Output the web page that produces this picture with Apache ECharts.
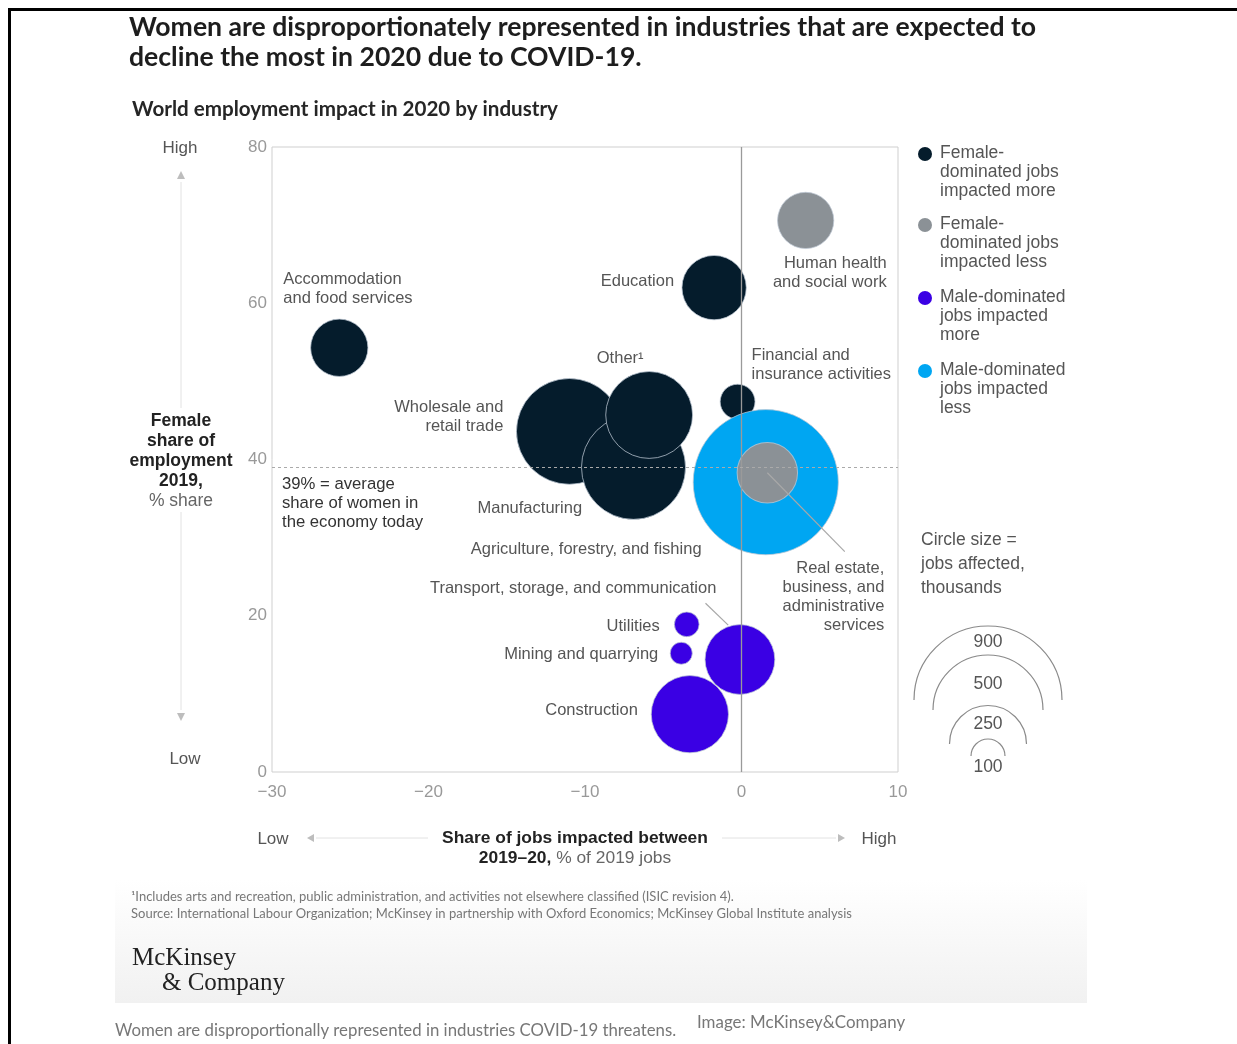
<!DOCTYPE html>
<html>
<head>
<meta charset="utf-8">
<script src="https://cdn.jsdelivr.net/npm/echarts@6/dist/echarts.min.js"></script>
<style>
html, body { margin: 0; padding: 0; background: #fff; }
#chart { width: 1237px; height: 1044px; }
</style>
</head>
<body>
<div id="chart"></div>
<script>
// data
var industries = [
    'Accommodation and food services', 'Education', 'Human health and social work',
    'Financial and insurance activities', 'Wholesale and retail trade', 'Manufacturing',
    'Other', 'Agriculture, forestry, and fishing',
    'Real estate, business, and administrative services',
    'Transport, storage, and communication', 'Utilities', 'Mining and quarrying', 'Construction'
];
var jobsImpacted = [-25.7, -1.75, 4.1, -0.25, -11.0, -6.9, -5.9, 1.55, 1.65, -0.1, -3.5, -3.85, -3.3];
var femaleShare = [54.3, 62.0, 70.6, 47.4, 43.6, 39.0, 45.7, 37.1, 38.3, 14.4, 18.9, 15.2, 7.4];
var jobsAffected = [135, 170, 130, 50, 460, 445, 310, 865, 150, 200, 25, 20, 245];
var groupOf = [0, 0, 1, 0, 0, 0, 0, 3, 1, 2, 2, 2, 2];

var groupNames = [
    'Female-\ndominated jobs\nimpacted more',
    'Female-\ndominated jobs\nimpacted less',
    'Male-dominated\njobs impacted\nmore',
    'Male-dominated\njobs impacted\nless'
];
var groupColors = ['#051c2c', '#8b9196', '#3a00e4', '#00a6f2'];
var drawOrder = [0, 3, 1, 2];

var xTicks = [-30, -20, -10, 0, 10];
var yTicks = [0, 20, 40, 60, 80];
var averageShare = 39;
var sizeLegend = [900, 500, 250, 100];

// label text and placement (offset from bubble centre, px)
var labelText = {
    'Accommodation and food services': 'Accommodation\nand food services',
    'Human health and social work': 'Human health\nand social work',
    'Financial and insurance activities': 'Financial and\ninsurance activities',
    'Wholesale and retail trade': 'Wholesale and\nretail trade',
    'Other': 'Other\u00b9',
    'Real estate, business, and administrative services': 'Real estate,\nbusiness, and\nadministrative\nservices'
};
var labelPlace = {
    'Accommodation and food services': [-56, -59, 'left'],
    'Education': [-40, -6, 'right'],
    'Human health and social work': [81, 53, 'right'],
    'Financial and insurance activities': [14, -37, 'left'],
    'Wholesale and retail trade': [-66, -14, 'right'],
    'Manufacturing': [-156, 41, 'left'],
    'Other': [-29, -57, 'center'],
    'Agriculture, forestry, and fishing': [-295, 67, 'left'],
    'Real estate, business, and administrative services': [117, 124, 'right'],
    'Transport, storage, and communication': [-310, -71, 'left'],
    'Utilities': [-27, 2, 'right'],
    'Mining and quarrying': [-23, 1, 'right'],
    'Construction': [-52, -4, 'right']
};

var SANS = '"Liberation Sans", Arial, sans-serif';
var K = 2.467; // px radius per sqrt(thousand jobs)

function bubbleSize(v) {
    return 2 * K * Math.sqrt(v[2]);
}

function fmtNum(v) {
    return String(v).replace('-', '\u2212');
}

var chart = echarts.init(document.getElementById('chart'));

var series = [{
    // reference lines under the bubbles
    type: 'scatter',
    data: [],
    z: 1,
    markLine: {
        silent: true,
        symbol: 'none',
        label: { show: false },
        data: [
            { xAxis: 0, lineStyle: { color: '#9a9a9a', width: 1.3, type: 'solid' } },
            { yAxis: averageShare, lineStyle: { color: '#aaa', width: 1, type: [3, 3] } }
        ]
    }
}];

drawOrder.forEach(function (g) {
    var data = [];
    industries.forEach(function (name, i) {
        if (groupOf[i] !== g) return;
        var p = labelPlace[name];
        data.push({
            name: name,
            value: [jobsImpacted[i], femaleShare[i], jobsAffected[i]],
            label: {
                show: true,
                position: 'inside',
                offset: [p[0], p[1]],
                align: p[2],
                verticalAlign: 'middle',
                formatter: labelText[name] || name
            }
        });
    });
    series.push({
        name: groupNames[g],
        type: 'scatter',
        z: 2,
        data: data,
        symbolSize: bubbleSize,
        itemStyle: {
            color: groupColors[g],
            opacity: 1,
            borderColor: 'rgba(190,200,212,0.75)',
            borderWidth: 1
        },
        label: {
            color: '#555',
            fontFamily: SANS,
            fontSize: 16.5,
            lineHeight: 19,
            textBorderWidth: 0
        },
        emphasis: { disabled: true }
    });
});

// leader lines above the bubbles
series.push({
    type: 'scatter',
    data: [],
    z: 3,
    markLine: {
        silent: true,
        symbol: 'none',
        label: { show: false },
        lineStyle: { color: '#a8a8a8', width: 1.2, type: 'solid' },
        data: [
            [{ coord: [1.65, 38.3] }, { coord: [6.6, 28.2] }],
            [{ coord: [-2.3, 21.6] }, { coord: [-0.85, 18.8] }]
        ]
    }
});

// graphic helpers
var gfx = [];
function txt(x, y, text, font, fill, align, extra) {
    var st = { text: text, font: font, fill: fill, textAlign: align || 'left', textVerticalAlign: 'middle' };
    if (extra) for (var k in extra) st[k] = extra[k];
    gfx.push({ type: 'text', x: x, y: y, z: 10, style: st });
}
function tri(points) {
    gfx.push({ type: 'polygon', z: 10, shape: { points: points }, style: { fill: '#bdbdbd' } });
}

// frame + footer band
gfx.push({ type: 'rect', shape: { x: 8, y: 8, width: 1229, height: 3 }, style: { fill: '#000' } });
gfx.push({ type: 'rect', shape: { x: 8, y: 8, width: 3, height: 1036 }, style: { fill: '#000' } });
gfx.push({
    type: 'rect', z: -1, shape: { x: 115, y: 880, width: 972, height: 123 },
    style: { fill: new echarts.graphic.LinearGradient(0, 0, 0, 1, [{ offset: 0, color: '#ffffff' }, { offset: 1, color: '#f1f1f1' }]) }
});

// titles
txt(129, 27, 'Women are disproportionately represented in industries that are expected to', 'bold 26.6px Lato, sans-serif', '#1d1d1d');
txt(129, 57, 'decline the most in 2020 due to COVID-19.', 'bold 26.6px Lato, sans-serif', '#1d1d1d');
txt(132, 109, 'World employment impact in 2020 by industry', 'bold 20.6px Lato, sans-serif', '#262626');

// y-axis annotation
gfx.push({ type: 'line', shape: { x1: 181, y1: 182, x2: 181, y2: 710 }, style: { stroke: '#e2e2e2', lineWidth: 1 } });
tri([[177, 179], [185, 179], [181, 171]]);
tri([[177, 713], [185, 713], [181, 721]]);
txt(180, 148, 'High', '17px ' + SANS, '#555', 'center');
txt(185, 759, 'Low', '17px ' + SANS, '#555', 'center');
gfx.push({ type: 'rect', z: 9, shape: { x: 124, y: 408, width: 114, height: 104 }, style: { fill: '#fff' } });
txt(181, 461, '{b|Female}\n{b|share of}\n{b|employment}\n{b|2019,}\n{n|% share}', '17.5px ' + SANS, '#222', 'center', {
    rich: {
        b: { font: 'bold 17.5px ' + SANS, fill: '#222', lineHeight: 20 },
        n: { font: '17.5px ' + SANS, fill: '#666', lineHeight: 20 }
    }
});

// x-axis annotation
gfx.push({ type: 'line', shape: { x1: 316, y1: 838, x2: 836, y2: 838 }, style: { stroke: '#e2e2e2', lineWidth: 1 } });
tri([[314, 834], [314, 842], [307, 838]]);
tri([[838, 834], [838, 842], [845, 838]]);
txt(273, 839, 'Low', '17px ' + SANS, '#555', 'center');
txt(879, 839, 'High', '17px ' + SANS, '#555', 'center');
gfx.push({ type: 'rect', z: 9, shape: { x: 428, y: 826, width: 294, height: 42 }, style: { fill: '#fff' } });
txt(575, 848, '{b|Share of jobs impacted between}\n{b|2019\u201320,} {n|% of 2019 jobs}', '17.4px ' + SANS, '#222', 'center', {
    rich: {
        b: { font: 'bold 17.4px ' + SANS, fill: '#222', lineHeight: 20 },
        n: { font: '17.4px ' + SANS, fill: '#666', lineHeight: 20 }
    }
});

// in-plot note
txt(282, 503, '39% = average\nshare of women in\nthe economy today', '16.7px ' + SANS, '#333', 'left', { lineHeight: 19 });

// legend
var legendY = [154, 225, 298, 371];
[0, 1, 2, 3].forEach(function (g, i) {
    gfx.push({ type: 'circle', shape: { cx: 925, cy: legendY[i], r: 7 }, style: { fill: groupColors[g] } });
    gfx.push({
        type: 'text', x: 940, y: legendY[i] - 10,
        style: { text: groupNames[g], font: '17.5px ' + SANS, fill: '#555', lineHeight: 19, textVerticalAlign: 'top' }
    });
});

// size legend
txt(921, 564, 'Circle size =\njobs affected,\nthousands', '17.5px ' + SANS, '#555', 'left', { lineHeight: 24 });
var arcR = [74, 55, 38.5, 17];
var arcCy = [700, 710, 744, 756];
var arcLabelY = [642, 684, 724, 767];
sizeLegend.forEach(function (v, i) {
    gfx.push({
        type: 'arc', shape: { cx: 988, cy: arcCy[i], r: arcR[i], startAngle: Math.PI * 1.0, endAngle: Math.PI * 2.0 },
        style: { stroke: '#8a8a8a', lineWidth: 1.2, fill: null }
    });
    txt(988, arcLabelY[i], String(v), '17.5px ' + SANS, '#555', 'center');
});

// footnotes, logo, caption
txt(131, 897, '\u00b9Includes arts and recreation, public administration, and activities not elsewhere classified (ISIC revision 4).', '13px Lato, sans-serif', '#777');
txt(131, 914, 'Source: International Labour Organization; McKinsey in partnership with Oxford Economics; McKinsey Global Institute analysis', '13px Lato, sans-serif', '#777');
txt(132, 958, 'McKinsey', '25px "Liberation Serif", "DejaVu Serif", serif', '#222', 'left', { letterSpacing: -1 });
txt(162, 983, '& Company', '25px "Liberation Serif", "DejaVu Serif", serif', '#222', 'left', { letterSpacing: -1 });
txt(115, 1031, 'Women are disproportionally represented in industries COVID-19 threatens.', '16.8px Lato, sans-serif', '#777');
txt(697, 1023, 'Image: McKinsey&Company', '16.9px Lato, sans-serif', '#777');

var option = {
    backgroundColor: '#fff',
    animation: false,
    grid: {
        left: 272, top: 147, width: 626, height: 625,
        show: true, borderColor: '#cfcfcf', borderWidth: 1
    },
    xAxis: {
        type: 'value',
        min: xTicks[0], max: xTicks[xTicks.length - 1], interval: 10,
        axisLine: { show: false }, axisTick: { show: false }, splitLine: { show: false },
        axisLabel: { color: '#999', fontSize: 17, fontFamily: SANS, margin: 12, formatter: fmtNum }
    },
    yAxis: {
        type: 'value',
        min: yTicks[0], max: yTicks[yTicks.length - 1], interval: 20,
        axisLine: { show: false }, axisTick: { show: false }, splitLine: { show: false },
        axisLabel: { color: '#999', fontSize: 17, fontFamily: SANS, margin: 5 }
    },
    series: series,
    graphic: gfx
};

chart.setOption(option);
</script>
</body>
</html>
